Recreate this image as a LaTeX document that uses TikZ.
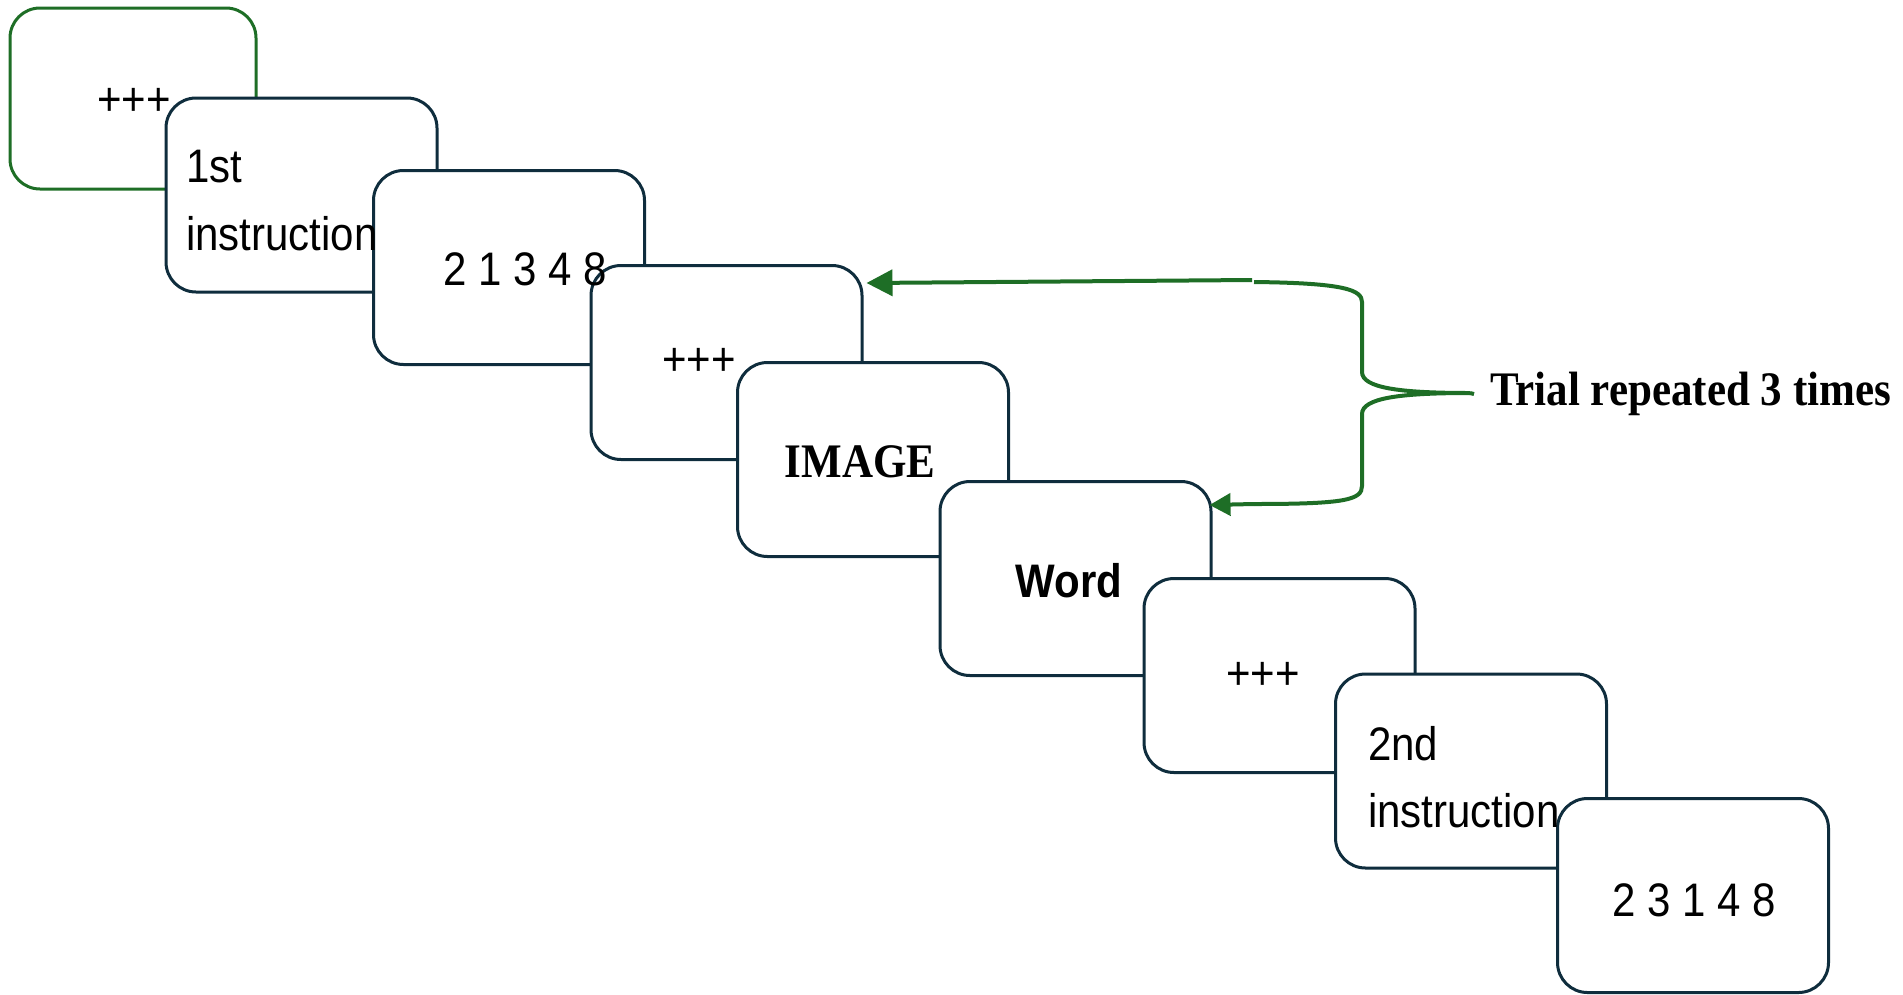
\documentclass[tikz,border=0pt]{standalone}
\usepackage{fontspec}
\setmainfont{Liberation Serif}
\setsansfont{Liberation Sans}
\usetikzlibrary{arrows.meta}
\definecolor{navy}{HTML}{0F2D3D}
\definecolor{grn}{HTML}{1E6E26}
\newcommand{\tall}[1]{\scalebox{1}[1.12]{#1}}
\tikzset{
  card/.style={draw=navy, line width=3pt, fill=white, rounded corners=30pt,
    minimum width=271pt, minimum height=194pt, inner sep=0pt},
  firstcard/.style={card, draw=grn, minimum width=246pt, minimum height=181pt},
  lbl/.style={font=\fontsize{42}{50}\selectfont\sffamily, inner sep=0pt, text=black},
  lblserif/.style={font=\fontsize{43}{50}\selectfont\rmfamily\bfseries, inner sep=0pt, text=black},
  brace/.style={draw=grn, line width=4pt},
  greenarrow/.style={draw=grn, line width=4pt, -{Triangle[length=26pt,width=26pt]}},
  greenarrowsmall/.style={draw=grn, line width=4pt, -{Triangle[length=21pt,width=22pt]}}
}
\begin{document}
\begin{tikzpicture}[x=1pt,y=-1pt]
\useasboundingbox (0,0) rectangle (1903,994);
% cards
\node[firstcard] (b1) at (133,98.5) {};
\node[card] (b2) at (301.5,195) {};
\node[card] (b3) at (509,267.5) {};
\node[card] (b4) at (726.5,362.5) {};
\node[card] (b5) at (873,459.5) {};
\node[card] (b6) at (1075.5,578.5) {};
\node[card] (b7) at (1279.5,675.5) {};
\node[card] (b8) at (1471,771) {};
\node[card] (b9) at (1693,895.5) {};
% texts
\node[lbl] (t1) at (134,102) {\tall{+++}};
\node[lbl, anchor=west] (t2a) at (186,167) {\tall{1st}};
\node[lbl, anchor=west] (t2b) at (186,234) {\tall{instruction}};
\node[lbl] (t3) at (525,269) {\tall{2 1 3 4 8}};
\node[lbl] (t4) at (699,362) {\tall{+++}};
\node[lblserif] (t5) at (860,462) {\tall{IMAGE}};
\node[lbl, font=\fontsize{42}{50}\selectfont\sffamily\bfseries] (t6) at (1069,581) {\tall{Word}};
\node[lbl] (t7) at (1263,676) {\tall{+++}};
\node[lbl, anchor=west] (t8a) at (1368,744) {\tall{2nd}};
\node[lbl, anchor=west] (t8b) at (1368,811) {\tall{instruction}};
\node[lbl] (t9) at (1694,900) {\tall{2 3 1 4 8}};
% label
\node[lblserif, anchor=west] (trial) at (1490,394) {\tall{Trial repeated 3 times}};
% brace and arrows
\coordinate (topj) at (1254,282);
\coordinate (botj) at (1254,504);
\coordinate (tip) at (1470,393);
\draw[greenarrow] (1252,280) -- ([xshift=3pt,yshift=-19pt]b4.north east);
\draw[greenarrowsmall] (botj) -- ([xshift=-3pt,yshift=-25pt]b6.north east);
\draw[brace] (topj) .. controls (1345,283) and (1362,290) .. (1362,302)
  -- (1362,372) .. controls (1362,388) and (1400,393) .. (tip)
  .. controls (1400,393) and (1362,398) .. (1362,414)
  -- (1362,486) .. controls (1362,500) and (1345,504) .. (botj);
\draw[brace] (tip) -- ([xshift=-16pt]trial.west);
\end{tikzpicture}
\end{document}
